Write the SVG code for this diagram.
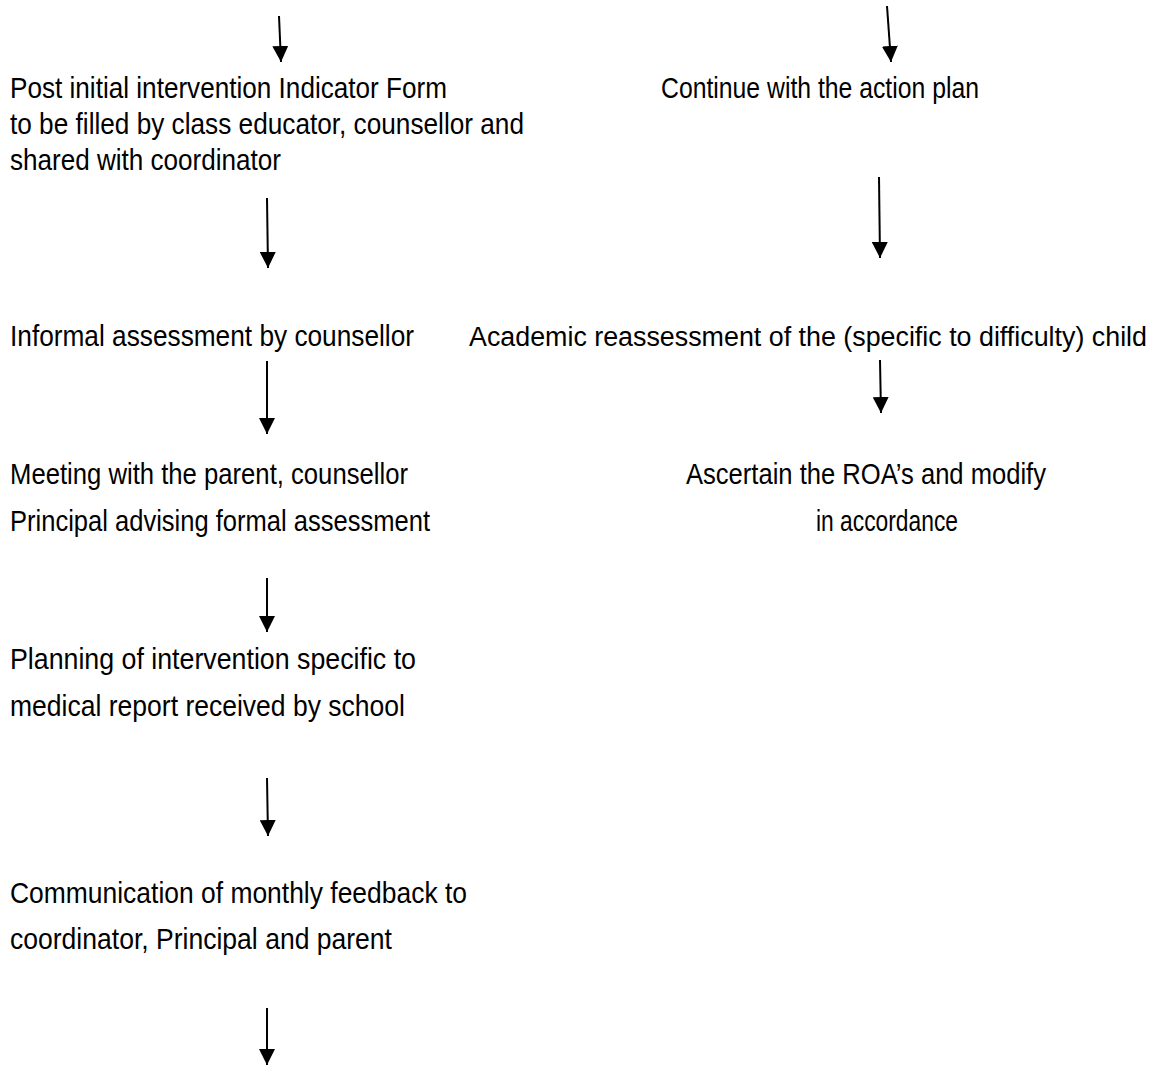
<svg xmlns="http://www.w3.org/2000/svg" width="1158" height="1066" viewBox="0 0 1158 1066">
<defs>
<marker id="ah" viewBox="0 0 16 16" refX="16" refY="8" markerWidth="16" markerHeight="16" markerUnits="userSpaceOnUse" orient="auto">
<path d="M0,0 L16,8 L0,16 z" fill="#000"/>
</marker>
<style>
text{font-family:"Liberation Sans",Arial,sans-serif;font-size:29px;fill:#000}
.c line{stroke:#000;stroke-width:2;marker-end:url(#ah)}
</style>
</defs>
<rect width="1158" height="1066" fill="#fff"/>
<g class="c" id="connectors">
<line x1="279" y1="16" x2="281" y2="62"/>
<line x1="887" y1="6" x2="891" y2="62"/>
<line x1="267" y1="198" x2="268" y2="268"/>
<line x1="879" y1="177" x2="880" y2="258"/>
<line x1="267" y1="361" x2="267" y2="434"/>
<line x1="880" y1="360" x2="881" y2="413"/>
<line x1="267" y1="578" x2="267" y2="632"/>
<line x1="267" y1="778" x2="268" y2="836"/>
<line x1="267" y1="1008" x2="267" y2="1065"/>
</g>
<g id="n1"><text x="10" y="98" textLength="437" lengthAdjust="spacingAndGlyphs">Post initial intervention Indicator Form</text>
<text x="10" y="134" textLength="514" lengthAdjust="spacingAndGlyphs">to be filled by class educator, counsellor and</text>
<text x="10" y="170" textLength="271" lengthAdjust="spacingAndGlyphs">shared with coordinator</text></g>
<g id="n2"><text x="661" y="98" textLength="318" lengthAdjust="spacingAndGlyphs">Continue with the action plan</text></g>
<g id="n3"><text x="10" y="346" textLength="404" lengthAdjust="spacingAndGlyphs">Informal assessment by counsellor</text></g>
<g id="n4"><text x="469" y="346" style="font-size:27px" textLength="678" lengthAdjust="spacingAndGlyphs">Academic reassessment of the (specific to difficulty) child</text></g>
<g id="n5"><text x="10" y="484" textLength="398" lengthAdjust="spacingAndGlyphs">Meeting with the parent, counsellor</text>
<text x="10" y="531" textLength="420" lengthAdjust="spacingAndGlyphs">Principal advising formal assessment</text></g>
<g id="n6"><text x="686" y="484" textLength="360" lengthAdjust="spacingAndGlyphs">Ascertain the ROA’s and modify</text>
<text x="816" y="531" textLength="142" lengthAdjust="spacingAndGlyphs">in accordance</text></g>
<g id="n7"><text x="10" y="669" textLength="406" lengthAdjust="spacingAndGlyphs">Planning of intervention specific to</text>
<text x="10" y="716" textLength="395" lengthAdjust="spacingAndGlyphs">medical report received by school</text></g>
<g id="n8"><text x="10" y="903" textLength="457" lengthAdjust="spacingAndGlyphs">Communication of monthly feedback to</text>
<text x="10" y="949" textLength="382" lengthAdjust="spacingAndGlyphs">coordinator, Principal and parent</text></g>
</svg>
